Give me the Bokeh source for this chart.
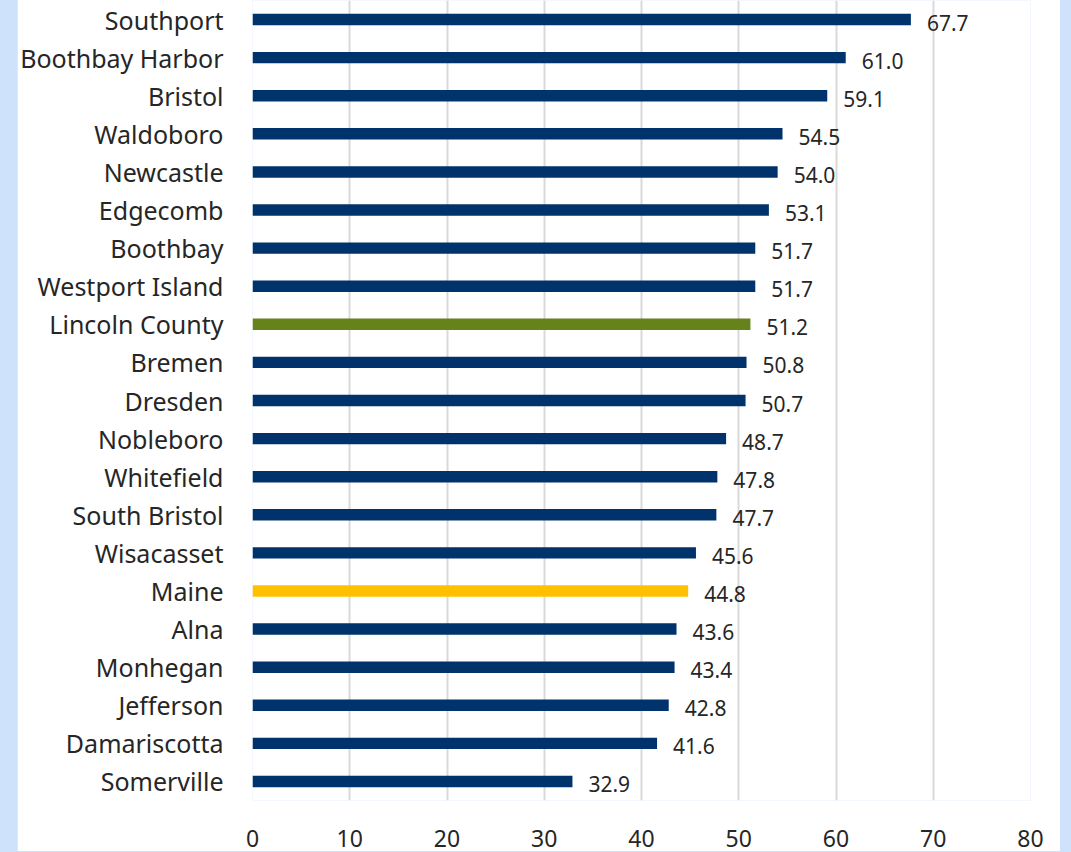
from bokeh.plotting import figure
from bokeh.models import ColumnDataSource, Range1d, FactorRange, FixedTicker
from bokeh.core.properties import value
from bokeh.embed import file_html
from bokeh.resources import INLINE

categories = ["Southport", "Boothbay Harbor", "Bristol", "Waldoboro", "Newcastle",
              "Edgecomb", "Boothbay", "Westport Island", "Lincoln County", "Bremen",
              "Dresden", "Nobleboro", "Whitefield", "South Bristol", "Wisacasset",
              "Maine", "Alna", "Monhegan", "Jefferson", "Damariscotta", "Somerville"]
values = [67.7, 61.0, 59.1, 54.5, 54.0, 53.1, 51.7, 51.7, 51.2, 50.8, 50.7,
          48.7, 47.8, 47.7, 45.6, 44.8, 43.6, 43.4, 42.8, 41.6, 32.9]
x_ticks = [0, 10, 20, 30, 40, 50, 60, 70, 80]

NAVY = "#00336b"
highlight = {"Lincoln County": "#66821a", "Maine": "#ffc000"}
colors = [highlight.get(c, NAVY) for c in categories]

src = ColumnDataSource(dict(
    cat=categories,
    val=values,
    color=colors,
    label=["%.1f" % v for v in values],
))

FONT = "Noto Sans"
TEXT = "#262626"

p = figure(
    y_range=FactorRange(*reversed(categories)),
    x_range=Range1d(0, 80),
    frame_width=778, frame_height=800,
    min_border_left=235, min_border_right=30, min_border_top=1, min_border_bottom=54,
    output_backend="svg", toolbar_location=None,
    background_fill_color="white", border_fill_color="white",
)
p.outline_line_color = None

p.hbar(y="cat", right="val", left=0, height=0.30, fill_color="color",
       line_color=None, source=src)

p.text(x="val", y="cat", text="label", source=src, x_offset=16, y_offset=3,
       text_baseline="middle", text_align="left", text_font=value(FONT),
       text_font_size="21px", text_color=TEXT)

p.xaxis.ticker = FixedTicker(ticks=x_ticks)
p.xaxis.axis_line_color = None
p.xaxis.major_tick_line_color = None
p.xaxis.minor_tick_line_color = None
p.xaxis.major_tick_out = 0
p.xaxis.major_label_standoff = 29
p.xaxis.major_label_text_font = FONT
p.xaxis.major_label_text_font_size = "23px"
p.xaxis.major_label_text_color = TEXT

p.yaxis.axis_line_color = None
p.yaxis.major_tick_line_color = None
p.yaxis.minor_tick_line_color = None
p.yaxis.major_tick_out = 0
p.yaxis.major_label_standoff = 29
p.yaxis.major_label_text_font = FONT
p.yaxis.major_label_text_font_size = "25px"
p.yaxis.major_label_text_color = TEXT

p.xgrid.grid_line_color = "#d9d9d9"
p.xgrid.grid_line_width = 2
p.ygrid.grid_line_color = None

html = file_html(p, INLINE)
css = ("<style>html,body{background-color:#cfe2fb !important;overflow:hidden !important;}"
       "body{padding:0 0 0 17px !important;margin:-1px 0 0 0 !important;}</style>")
html = html.replace("</head>", css + "</head>", 1)
open("out.html", "w").write(html)
